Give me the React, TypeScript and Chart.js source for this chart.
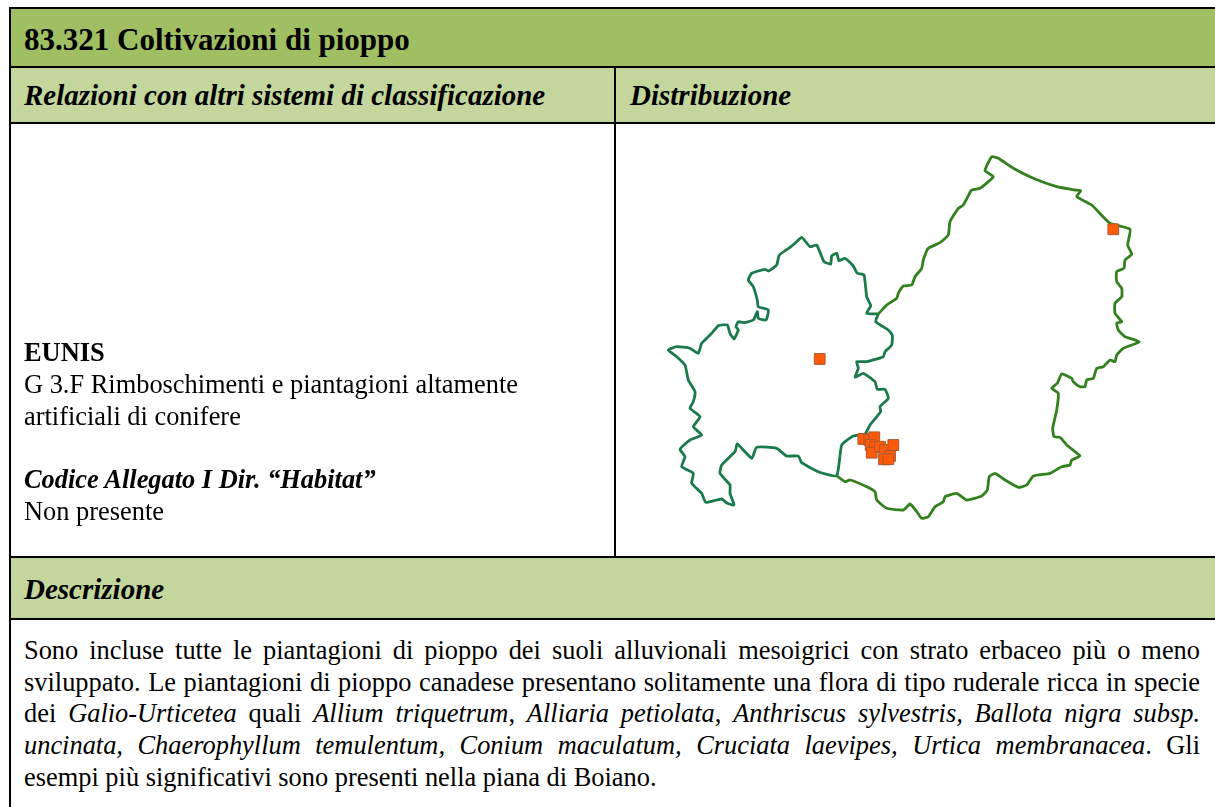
import React, { useEffect, useRef } from "react";
import { Chart, registerables } from "chart.js";

Chart.register(...registerables);

const title = "83.321 Coltivazioni di pioppo";
const headLeft = "Relazioni con altri sistemi di classificazione";
const headRight = "Distribuzione";
const headDesc = "Descrizione";

// Map outline of the western province, in map units
const westBorder: [number, number][] = [
  [878.3,314],[866.7,313.3],[870.7,305.7],[866.7,296.7],[864,275],[857.3,273.3],[853.3,266],[845,258.3],[839,260.7],[836.7,253.3],
  [831.7,256],[830.7,264],[824,261.7],[816.7,245],[810,246.7],[801.7,237.3],[796.7,241.7],[790,247.3],[779.3,255],[776.7,265],
  [768.3,271],[765,269.3],[751.7,273.3],[748.3,280],[753.3,286.7],[757.3,300],[758.3,306.7],[768.3,310],[766,320],[758.3,318.3],
  [757.3,311.7],[753.3,320],[744,322.7],[738.3,321.7],[736,326.7],[738.3,330],[734,339],[730,333.3],[727.3,325],[718.3,325.7],
  [711.7,333.3],[701.7,343.3],[698.3,353.3],[690,348.3],[676.7,346.7],[668.3,350],[676.7,356.7],[685,365],[688.3,380],[695,391.7],
  [693.3,401.7],[690,408.3],[700,416.7],[693.3,426.7],[701.7,435],[690,440],[680,449.3],[685,456.7],[681.7,466.7],[693.3,473.3],
  [691.7,483.3],[701.7,493.3],[705.7,502.3],[721.7,499],[727.3,503.3],[734,505],[730,493.3],[730,485],[720,473.3],[721.7,465],
  [735,451.7],[737.3,444],[751.7,458.3],[756.7,447.3],[776.7,448.3],[786.7,456],[798.3,456],[801.7,462.7],[818.3,471.7],[836.7,475.7],
  [841.7,445],[853.3,436],[865,434],[870,425],[880.7,411.7],[880,406.7],[888.3,398.3],[885,389.3],[877.3,389.3],[875,381.7],
  [863.3,373.3],[855,377.3],[858.3,368.3],[856.7,361.7],[866.7,361.7],[883.3,356.7],[885,351.7],[891.7,345],[892.3,335],[888.3,330],
  [875.7,321.7],[878.3,314],
];

// Map outline of the eastern province, in map units
const eastBorder: [number, number][] = [
  [878.3,314],[886.7,305],[896.7,298.3],[898.3,293.3],[903.3,286],[911.7,285],[915,276.7],[921.7,268.3],[923.3,260],[928.3,248.3],
  [940,242.7],[948.3,235],[950,221.7],[958.3,208.3],[963.3,205],[971.7,190],[980,188.3],[993.3,176.7],[985,170.7],[991.7,156.7],
  [998.3,158.3],[1013.3,168.3],[1033.3,178.3],[1056.7,186.7],[1075,190],[1080.7,190.7],[1076.7,196.7],[1091.7,205],[1110,223.3],[1130,229.3],
  [1127.7,245],[1131.7,254.3],[1125,260],[1124,268.3],[1116.7,271.7],[1116.7,281.7],[1121.7,288.3],[1121.7,296.7],[1115,303.3],[1115,313.3],
  [1121.7,321.7],[1116.7,323.3],[1118.3,330],[1125,336.7],[1139.3,341.7],[1123.3,348.3],[1116.7,355],[1115,361.7],[1110,360],[1103.3,366.7],
  [1096.7,368.3],[1093.3,378.3],[1086.7,380],[1085,386.7],[1080,386.7],[1073.3,381.7],[1071.7,378.3],[1061.7,374],[1057.3,383.3],[1051.7,388.3],
  [1058.3,393.3],[1056.7,410],[1052.7,428.3],[1054,436.7],[1060,437.3],[1066.7,445],[1080,456],[1071.7,460],[1070,465],[1061.7,466.7],
  [1050,473.3],[1033.3,476],[1026.7,485],[1018.3,487.3],[1005,480],[995,473.3],[989.3,476.7],[987.3,490],[981.7,496],[966.7,500],
  [956.7,493.3],[945,496.7],[943.3,501.7],[935,506.7],[928.3,516.7],[921.7,518.3],[916.7,511.7],[910,504],[903.3,510],[886.7,508.3],
  [876.7,500],[875,491.7],[866.7,486.7],[850,480],[845,481.7],[836.7,475.7],
];

// Occurrence records
const records: [number, number][] = [
  [1113.3,229.3],[819.7,359],[863.3,439],[869.3,440],[874.3,437.3],[870.7,445],[875,447.3],[871.7,452.7],
  [880,446.7],[885,450],[893.3,445],[890,456],[884,459.3],[888.3,459.3],
];

const toPoints = (rows: [number, number][]) => rows.map(([x, y]) => ({ x, y }));

const serif = '"Liberation Serif", "Times New Roman", serif';

function Line(props: { top: number; left?: number; width?: number; justify?: boolean; children: React.ReactNode; style?: React.CSSProperties }) {
  const { top, left = 24, width = 1176, justify, children, style } = props;
  return (
    <div
      style={{
        position: "absolute",
        top,
        left,
        width,
        height: 32,
        lineHeight: "32px",
        fontSize: 26.4,
        color: "#000",
        textAlign: justify ? "justify" : "left",
        textAlignLast: justify ? "justify" : "left",
        whiteSpace: justify ? "normal" : "nowrap",
        ...style,
      }}
    >
      {children}
    </div>
  );
}

function Box(props: { left: number; top: number; width: number; height: number; color: string }) {
  const { left, top, width, height, color } = props;
  return <div style={{ position: "absolute", left, top, width, height, background: color }} />;
}

export default function App() {
  const ref = useRef<HTMLCanvasElement>(null);
  useEffect(() => {
    if (!ref.current) return;
    const chart = new Chart(ref.current, {
      type: "scatter",
      data: {
        datasets: [
          {
            label: "Coltivazioni di pioppo",
            data: toPoints(records),
            pointStyle: "rect",
            pointRadius: 7.6,
            backgroundColor: "#ff5a0a",
            borderColor: "#a85a30",
            borderWidth: 1,
            showLine: false,
          },
          {
            label: "Provincia est",
            data: toPoints(eastBorder),
            showLine: true,
            borderColor: "#33801f",
            borderWidth: 2.8,
            borderJoinStyle: "round",
            pointRadius: 0,
            tension: 0.15,
          },
          {
            label: "Provincia ovest",
            data: toPoints(westBorder),
            showLine: true,
            borderColor: "#1a7a4c",
            borderWidth: 2.8,
            borderJoinStyle: "round",
            pointRadius: 0,
            tension: 0.15,
          },
        ],
      },
      options: {
        animation: false,
        responsive: false,
        maintainAspectRatio: false,
        layout: { padding: 0, autoPadding: false },
        plugins: { legend: { display: false }, title: { display: false }, tooltip: { enabled: false } },
        scales: {
          x: { type: "linear", display: false, min: 616, max: 1215 },
          y: { type: "linear", display: false, min: 124, max: 556, reverse: true },
        },
      },
    });
    return () => chart.destroy();
  }, []);

  const head: React.CSSProperties = { fontSize: 29, fontWeight: 700, fontStyle: "italic" };

  return (
    <div style={{ position: "absolute", left: 0, top: 0, width: 1215, height: 807, overflow: "hidden", background: "#fff", fontFamily: serif }}>
      <Box left={11} top={9} width={1204} height={57} color="#a0bf63" />
      <Box left={11} top={68} width={1204} height={54} color="#c3d69b" />
      <Box left={11} top={558} width={1204} height={60} color="#c3d69b" />

      <Box left={9} top={7} width={1206} height={2} color="#000" />
      <Box left={9} top={66} width={1206} height={2} color="#000" />
      <Box left={9} top={122} width={1206} height={2} color="#000" />
      <Box left={9} top={556} width={1206} height={2} color="#000" />
      <Box left={9} top={618} width={1206} height={2} color="#000" />
      <Box left={9} top={7} width={2} height={800} color="#000" />
      <Box left={614} top={68} width={2} height={488} color="#000" />

      <canvas ref={ref} width={599} height={432} style={{ position: "absolute", left: 616, top: 124, width: 599, height: 432 }} />

      <Line top={23.5} style={{ fontSize: 31, fontWeight: 700 }}>{title}</Line>
      <Line top={78.5} style={head}>{headLeft}</Line>
      <Line top={78.5} left={630} width={400} style={head}>{headRight}</Line>
      <Line top={572.5} style={head}>{headDesc}</Line>

      <Line top={335.5} style={{ fontWeight: 700 }}>EUNIS</Line>
      <Line top={367.5}>G 3.F Rimboschimenti e piantagioni altamente</Line>
      <Line top={400}>artificiali di conifere</Line>
      <Line top={463} style={{ fontWeight: 700, fontStyle: "italic" }}>Codice Allegato I Dir. “Habitat”</Line>
      <Line top={495}>Non presente</Line>

      <Line top={634} justify>Sono incluse tutte le piantagioni di pioppo dei suoli alluvionali mesoigrici con strato erbaceo più o meno</Line>
      <Line top={665.7} justify>sviluppato. Le piantagioni di pioppo canadese presentano solitamente una flora di tipo ruderale ricca in specie</Line>
      <Line top={697.3} justify>dei <i>Galio-Urticetea</i> quali <i>Allium triquetrum</i>, <i>Alliaria petiolata</i>, <i>Anthriscus sylvestris, Ballota nigra subsp.</i></Line>
      <Line top={729} justify><i>uncinata, Chaerophyllum temulentum, Conium maculatum, Cruciata laevipes, Urtica membranacea</i>. Gli</Line>
      <Line top={760.7}>esempi più significativi sono presenti nella piana di Boiano.</Line>
    </div>
  );
}
